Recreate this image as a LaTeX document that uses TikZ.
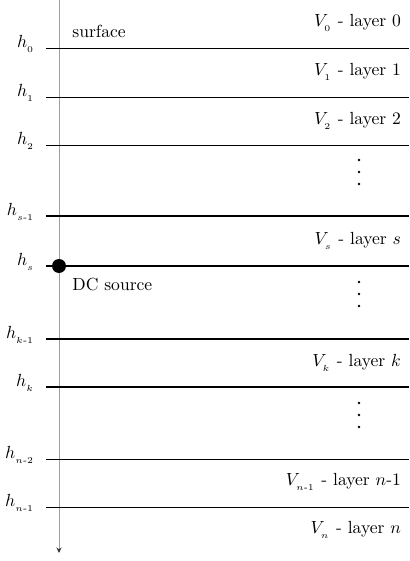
\documentclass[tikz,border=0pt]{standalone}
\usepackage{amsmath,amssymb}
\usepackage{tikz}
\usetikzlibrary{arrows.meta,positioning,calc}
\newcommand{\hy}{\text{-}}
\tikzset{
  depthax/.style={-{Stealth[length=1.1mm,width=1mm,color=black!80]}, gray!75, line width=0.5pt},
  bnd/.style={black, line width=0.55pt},
  bndthick/.style={black, line width=1.15pt},
  hlab/.style={anchor=east, inner sep=1pt},
  vlab/.style={anchor=east, inner sep=1pt},
  vdot/.style={circle, fill=black, inner sep=0pt, minimum size=1.5pt},
  srcdot/.style={circle, fill=black, inner sep=0pt, minimum size=2.8mm},
}
\begin{document}
\begin{tikzpicture}[x=0.2mm, y=-0.2mm]
\useasboundingbox (0,0) rectangle (409,561);
% depth axis
\coordinate (top) at (59,0);
\coordinate (bot) at (59,553);
\draw[depthax] (top) -- (bot);
% layer boundaries
\foreach \y/\nm/\lb/\st in {48/b0/{0}/bnd, 97/b1/{1}/bnd, 145/b2/{2}/bnd,
  216/bsm/{s\hy1}/bndthick, 266/bs/{s}/bndthick,
  339/bkm/{k\hy1}/bndthick, 387/bk/{k}/bndthick,
  459/bnmm/{n\hy2}/bnd, 507/bnm/{n\hy1}/bnd}{
  \coordinate (\nm-l) at (46,\y);
  \coordinate (\nm-r) at (409,\y);
  \draw[\st] (\nm-l) -- (\nm-r);
  \node[hlab] (\nm-h) at (37,\y-4) {$h_{_{\lb}}$};
}
% layer names
\foreach \y/\nm/\lb in {23/v0/{$V_{_0}$ - layer 0}, 72/v1/{$V_{_1}$ - layer 1},
  121/v2/{$V_{_2}$ - layer 2}, 241/vs/{$V_{_s}$ - layer $s$},
  363/vk/{$V_{_k}$ - layer $k$}, 482/vnm/{$V_{_{n\hy1}}$ - layer $n$-1},
  530/vn/{$V_{_n}$ - layer $n$}}{
  \node[vlab] (\nm) at (403,\y) {\lb};
}
% vertical ellipses
\foreach \y/\nm in {160/a, 282/b, 403/c}{
  \node[vdot] (\nm1) at (359,\y) {};
  \node[vdot] (\nm2) at (359,\y+12) {};
  \node[vdot] (\nm3) at (359,\y+24) {};
}
\node[anchor=west, inner sep=0pt] (surf) at (72,31) {surface};
\node[srcdot] (src) at (59,266) {};
\node[anchor=west, inner sep=0pt] (srclab) at (72,284) {DC source};
\end{tikzpicture}
\end{document}
